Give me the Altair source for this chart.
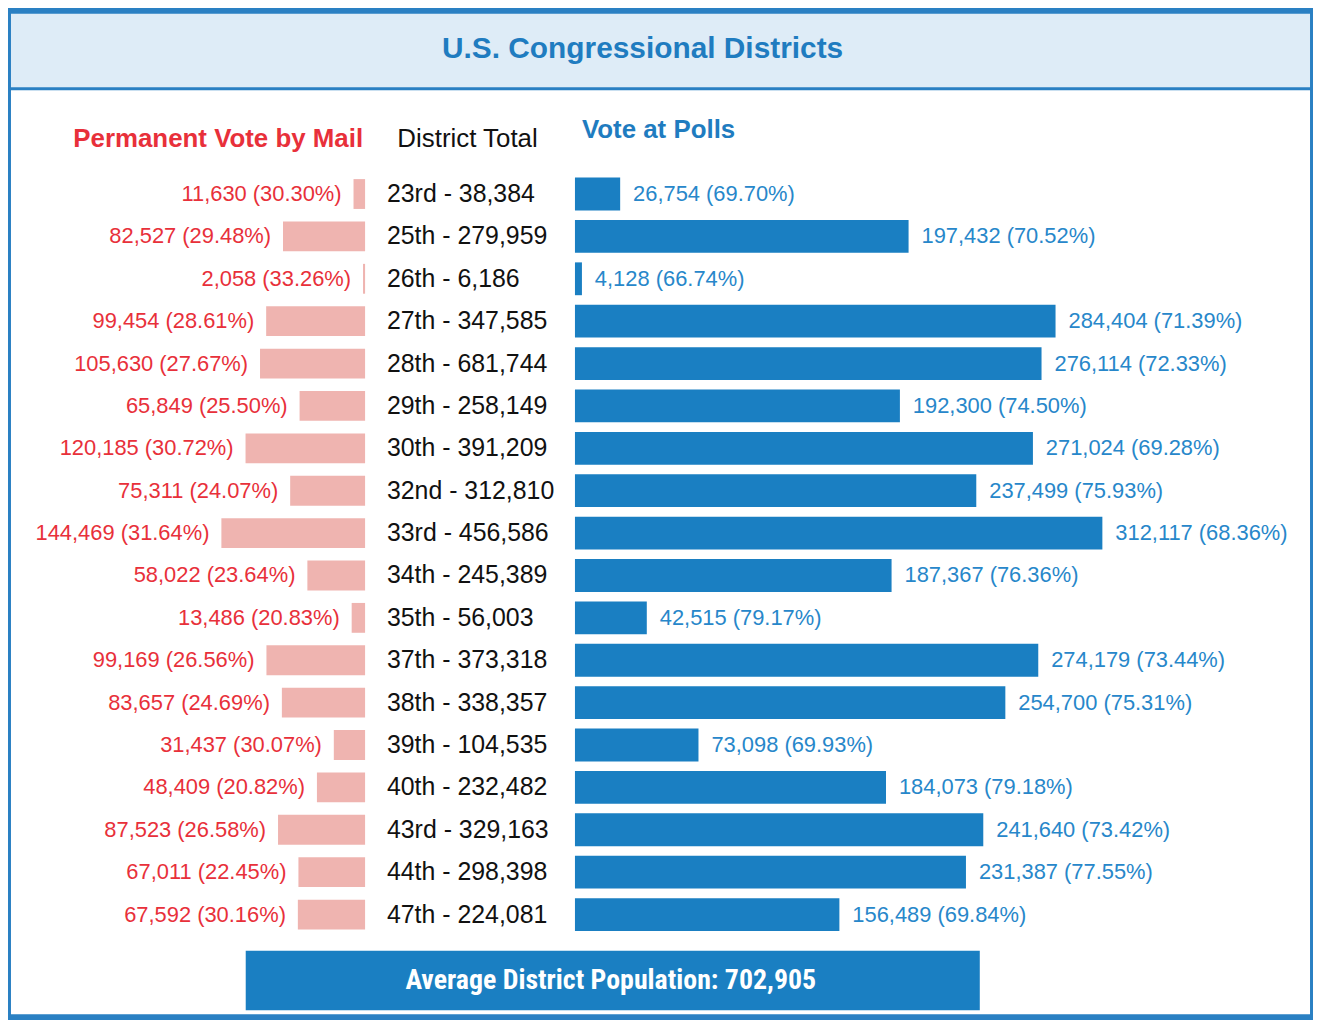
import altair as alt
import pandas as pd

# ---------------- data ----------------
title_text = "U.S. Congressional Districts"
col_headers = ["Permanent Vote by Mail", "District Total", "Vote at Polls"]
districts = ["23rd", "25th", "26th", "27th", "28th", "29th", "30th", "32nd", "33rd",
             "34th", "35th", "37th", "38th", "39th", "40th", "43rd", "44th", "47th"]
district_totals = [38384, 279959, 6186, 347585, 681744, 258149, 391209, 312810, 456586,
                   245389, 56003, 373318, 338357, 104535, 232482, 329163, 298398, 224081]
mail_votes = [11630, 82527, 2058, 99454, 105630, 65849, 120185, 75311, 144469,
              58022, 13486, 99169, 83657, 31437, 48409, 87523, 67011, 67592]
mail_pct = [30.30, 29.48, 33.26, 28.61, 27.67, 25.50, 30.72, 24.07, 31.64,
            23.64, 20.83, 26.56, 24.69, 30.07, 20.82, 26.58, 22.45, 30.16]
poll_votes = [26754, 197432, 4128, 284404, 276114, 192300, 271024, 237499, 312117,
              187367, 42515, 274179, 254700, 73098, 184073, 241640, 231387, 156489]
poll_pct = [69.70, 70.52, 66.74, 71.39, 72.33, 74.50, 69.28, 75.93, 68.36,
            76.36, 79.17, 73.44, 75.31, 69.93, 79.18, 73.42, 77.55, 69.84]
avg_population = 702905

# ---------------- styling ----------------
FONT = "Liberation Sans"
NARROW = "Liberation Sans Narrow, Arial Narrow, Roboto Condensed, Liberation Sans"
BORDER_BLUE = "#2a80c3"
HEADER_FILL = "#deecf7"
TITLE_BLUE = "#1f7cc0"
BAR_BLUE = "#1a7fc2"
LABEL_BLUE = "#2787ca"
RED = "#e8303a"
PINK = "#efb4b0"

W = 1306          # inner width
H_HEAD = 74       # title banner
H_BODY = 929      # white body (headers, rows, footer)

df = pd.DataFrame({
    "district": districts,
    "total": district_totals,
    "mail": mail_votes,
    "mail_pct": mail_pct,
    "polls": poll_votes,
    "poll_pct": poll_pct,
})
df["mail_label"] = [f"{v:,} ({p:.2f}%)" for v, p in zip(mail_votes, mail_pct)]
df["poll_label"] = [f"{v:,} ({p:.2f}%)" for v, p in zip(poll_votes, poll_pct)]
df["total_label"] = [f"{d} - {t:,}" for d, t in zip(districts, district_totals)]

# scales: mail bars grow leftwards from the centre column, poll bars rightwards
mail_scale = alt.Scale(domain=[0, 356000], range=[356, 0], nice=False, zero=True)
poll_scale = alt.Scale(domain=[0, 435000], range=[567, W], nice=False, zero=True)
y_enc = alt.Y("district:N", sort=districts, axis=None,
              scale=alt.Scale(domain=districts, range=[83, 850],
                              paddingInner=0, paddingOuter=0))

# ---------------- header banner ----------------
header = alt.Chart(pd.DataFrame({"t": [title_text]})).mark_text(
    font=FONT, fontSize=30, fontWeight="bold", color=TITLE_BLUE, dx=-18, dy=-1
).encode(text="t:N").properties(
    width=W, height=H_HEAD, view=alt.ViewBackground(fill=HEADER_FILL, stroke=None)
)

# ---------------- column headers ----------------
hd_left = alt.Chart(pd.DataFrame({"t": [col_headers[0]]})).mark_text(
    font=FONT, fontSize=26, fontWeight="bold", color=RED, align="right", dx=-2
).encode(
    x=alt.XDatum(0, scale=mail_scale, axis=None),
    y=alt.value(49),
    text="t:N",
)
hd_mid = alt.Chart(pd.DataFrame({"t": [col_headers[1]]})).mark_text(
    font=FONT, fontSize=26, color="#111111", align="center"
).encode(x=alt.value(459), y=alt.value(49), text="t:N")
hd_right = alt.Chart(pd.DataFrame({"t": [col_headers[2]]})).mark_text(
    font=FONT, fontSize=26, fontWeight="bold", color=TITLE_BLUE, align="left", dx=7
).encode(
    x=alt.XDatum(0, scale=poll_scale, axis=None),
    y=alt.value(40),
    text="t:N",
)

# ---------------- rows ----------------
base_l = alt.Chart(df).encode(
    y=y_enc, x=alt.X("mail:Q", scale=mail_scale, axis=None)
)
mail_bars = base_l.mark_bar(color=PINK, size=30)
mail_text = base_l.mark_text(font=FONT, fontSize=22, color=RED, align="right", dx=-12
                             ).encode(text="mail_label:N")

mid_text = alt.Chart(df).mark_text(
    font=FONT, fontSize=25, color="#111111", align="left"
).encode(y=y_enc, x=alt.value(378), text="total_label:N")

base_r = alt.Chart(df).encode(
    y=y_enc, x=alt.X("polls:Q", scale=poll_scale, axis=None)
)
poll_bars = base_r.mark_bar(color=BAR_BLUE, size=33)
poll_text = base_r.mark_text(font=FONT, fontSize=22, color=LABEL_BLUE, align="left", dx=13
                             ).encode(text="poll_label:N")

# ---------------- footer banner ----------------
foot_df = pd.DataFrame({"t": [f"Average District Population: {avg_population:,}"]})
foot_box = alt.Chart(foot_df).mark_rect(color=BAR_BLUE).encode(
    x=alt.value(236), x2=alt.value(974), y=alt.value(865), y2=alt.value(925)
)
foot_text = alt.Chart(foot_df).mark_text(
    font=NARROW, fontSize=28, fontWeight="bold", color="white", align="center"
).encode(x=alt.value(603), y=alt.value(896), text="t:N")

body = alt.layer(
    hd_left, hd_mid, hd_right,
    mail_bars, mail_text, mid_text, poll_bars, poll_text,
    foot_box, foot_text,
).resolve_scale(x="independent").properties(
    width=W, height=H_BODY, view=alt.ViewBackground(fill="white", stroke=None)
)

chart = alt.vconcat(header, body, spacing=3).properties(
    padding=3, background=BORDER_BLUE
).configure_view(fill="white", stroke=None)

chart.save("out.html", embed_options={"renderer": "svg", "actions": False})
